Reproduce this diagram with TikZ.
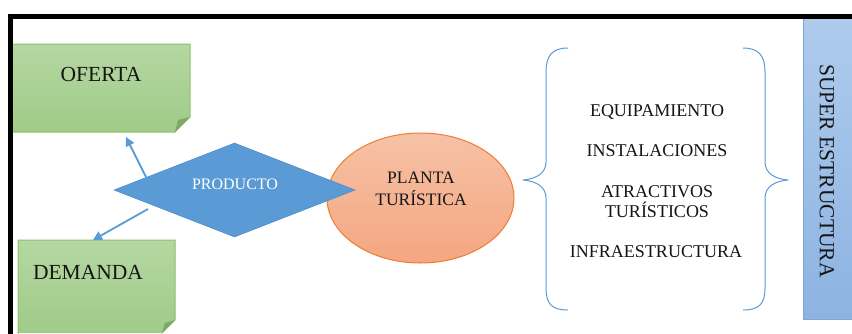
\documentclass[tikz,border=0pt]{standalone}
\usepackage{fontspec}
\setmainfont{Liberation Serif}
\usetikzlibrary{shapes.geometric,arrows.meta}
\definecolor{gtop}{HTML}{B5D7A2}
\definecolor{gbot}{HTML}{A0CB88}
\definecolor{gline}{HTML}{8CC06C}
\definecolor{gfold}{HTML}{7EA866}
\definecolor{dblue}{HTML}{5B9BD5}
\definecolor{dline}{HTML}{4F8CC8}
\definecolor{etop}{HTML}{F6C2A6}
\definecolor{ebot}{HTML}{F4A680}
\definecolor{eline}{HTML}{ED7D31}
\definecolor{btop}{HTML}{AECBEC}
\definecolor{bbot}{HTML}{8DB3E2}
\definecolor{bline}{HTML}{7EA6D8}
\definecolor{txt}{HTML}{151515}
\tikzset{
  lbl/.style={text=txt,font=\fontsize{21.5}{24}\selectfont,inner sep=0pt},
  item/.style={text=txt,font=\fontsize{18}{21}\selectfont,inner sep=0pt,align=center},
  conn/.style={draw=dblue,line width=1.8pt,-{Triangle[length=9pt,width=9pt]}},
  brace/.style={draw=dblue,line width=1pt,line join=round},
}
\begin{document}
\begin{tikzpicture}[x=1pt,y=-1pt]
\useasboundingbox (0,0) rectangle (852,333);
\fill[white] (0,0) rectangle (852,333);
% super estructura box
\shade[top color=btop,bottom color=bbot] (803,19) rectangle (856,319);
\draw[bline,line width=1pt] (856,319) -- (803,319) -- (803,19);
\node[lbl,rotate=-90] (sup) at (827,171) {SUPER ESTRUCTURA};
% frame
\draw[black,line width=5pt] (10.5,340) -- (10.5,16.5) -- (860,16.5);
% OFERTA box
\shade[top color=gtop,bottom color=gbot] (13,44) -- (190,44) -- (190,117) -- (175,132) -- (13,132) -- cycle;
\draw[gline,line width=1pt] (13,44) -- (190,44) -- (190,117) -- (175,132) -- (13,132);
\fill[gfold] (190,117) -- (175,132) -- (178,120) -- cycle;
\node[lbl] (of) at (101,74) {OFERTA};
\coordinate (ofb) at (126,137);
% DEMANDA box
\shade[top color=gtop,bottom color=gbot] (18,240) -- (175,240) -- (175,320) -- (162,333) -- (18,333) -- cycle;
\draw[gline,line width=1pt] (18,336) -- (18,240) -- (175,240) -- (175,320) -- (162,333);
\fill[gfold] (175,320) -- (162,333) -- (165,323) -- cycle;
\node[lbl] (de) at (88,272) {DEMANDA};
\coordinate (det) at (93,240);
% ellipse
\node[ellipse,minimum width=187pt,minimum height=130pt,draw=eline,line width=1pt,
  top color=etop,bottom color=ebot,inner sep=0pt] (pl) at (420.5,198) {};
\node[item,font=\fontsize{17.5}{21.5}\selectfont] (plt) at (421,189) {PLANTA\\TURÍSTICA};
% diamond
\node[diamond,aspect=2.56,minimum width=241pt,minimum height=94pt,fill=dblue,draw=dline,
  line width=0.6pt,inner sep=0pt] (pr) at (234.5,190) {};
\node[text=white,font=\fontsize{16}{18}\selectfont,inner sep=0pt] (prt) at (235,184) {PRODUCTO};
\coordinate (p1) at (146,177);
\coordinate (p2) at (148,209);
\draw[conn] (p1) -- (ofb);
\draw[conn] (p2) -- (det);
% braces
\draw[brace] (568,48) .. controls (552,48) and (546,56) .. (546,72) -- (546,162)
  .. controls (546,174) and (535,179) .. (523,180)
  .. controls (535,181) and (546,186) .. (546,198) -- (546,288)
  .. controls (546,304) and (552,310) .. (568,310);
\draw[brace] (743,48) .. controls (759,48) and (765,56) .. (765,72) -- (765,162)
  .. controls (765,174) and (776,179) .. (788,180)
  .. controls (776,181) and (765,186) .. (765,198) -- (765,288)
  .. controls (765,304) and (759,310) .. (743,310);
% items
\node[item] (eq) at (657,112) {EQUIPAMIENTO};
\node[item] (in) at (657,151) {INSTALACIONES};
\node[item,font=\fontsize{18}{20}\selectfont] (at) at (657,202) {ATRACTIVOS\\TURÍSTICOS};
\node[item] (inf) at (656,252) {INFRAESTRUCTURA};
\end{tikzpicture}
\end{document}
